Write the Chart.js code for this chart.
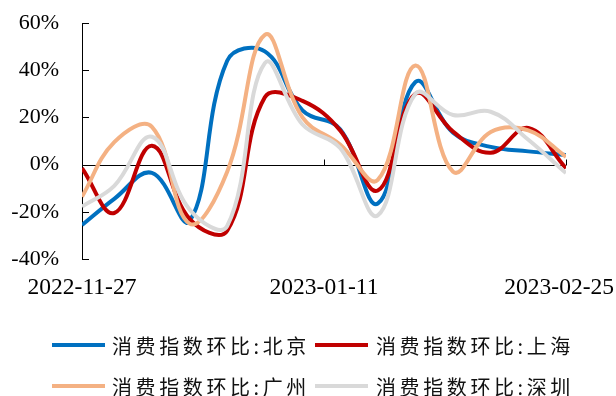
<!DOCTYPE html>
<html>
<head>
<meta charset="utf-8">
<script src="https://cdn.jsdelivr.net/npm/chart.js@4/dist/chart.umd.min.js"></script>
<style>
  html, body { margin: 0; padding: 0; background: #fff; }
  #wrap { width: 616px; height: 396px; }
</style>
</head>
<body>
<div id="wrap"><canvas id="c" width="616" height="396"></canvas></div>
<script>
// Weekly observation dates
const dates = ['2022-11-27', '2022-12-03', '2022-12-10', '2022-12-17', '2022-12-24', '2022-12-31',
               '2023-01-07', '2023-01-14', '2023-01-21', '2023-01-28', '2023-02-04', '2023-02-11',
               '2023-02-18', '2023-02-25'];

// Week-on-week change of the consumption index, in percent
const beijing  = [-25.6, -14.5,  -3.5, -24.0,  44.0,  48.0,  23.0,  15.0, -16.5,  35.0,  13.5,   7.5,   5.6,   4.1];
const shanghai = [ -1.5, -20.5,   8.0, -23.0, -28.0,  28.5,  27.0,  14.5, -11.0,  30.0,  14.0,   5.0,  15.5,  -1.5];
const guangzhou= [-13.6,   9.5,  16.0, -25.0,  -3.0,  55.0,  20.0,   8.5,  -6.5,  42.0,  -3.0,  13.8,  14.5,   3.3];
const shenzhen = [-17.8,  -9.0,  11.8, -19.0, -26.0,  43.0,  17.0,   7.0, -21.5,  30.0,  21.0,  22.4,  10.5,  -3.6];

const seriesNames = ['消费指数环比:北京', '消费指数环比:上海', '消费指数环比:广州', '消费指数环比:深圳'];
const seriesColors = ['#0070C0', '#C00000', '#F4B183', '#D9D9D9'];

// Date axis labels
const xTickLabels = ['2022-11-27', '2023-01-11', '2023-02-25'];
const yTicks = { min: -40, max: 60, step: 20 };

const DAY = 86400000;
const t0 = Date.parse(dates[0] + 'T00:00:00Z');
const dayOf = s => Math.round((Date.parse(s + 'T00:00:00Z') - t0) / DAY);
const xMax = dayOf(dates[dates.length - 1]);

const toPoints = vals => dates.map((d, i) => ({ x: dayOf(d), y: vals[i] }));

const serif = '"Liberation Serif", "Times New Roman", serif';
const cjk = '"Noto Sans CJK SC", "Noto Sans CJK JP", sans-serif';

// Zero line, inward axis ticks, date labels
const axisDecor = {
  id: 'axisDecor',
  beforeDatasetsDraw(chart) {
    const { ctx, chartArea: a, scales: { x, y } } = chart;
    ctx.save();
    ctx.strokeStyle = '#000';
    ctx.lineWidth = 1;
    const y0 = Math.round(y.getPixelForValue(0)) + 0.5;
    ctx.beginPath();
    ctx.moveTo(a.left, y0);
    ctx.lineTo(a.right, y0);
    // x ticks pointing up from the zero line
    xTickLabels.forEach(lbl => {
      const px = Math.round(x.getPixelForValue(dayOf(lbl))) + 0.5;
      ctx.moveTo(px, y0);
      ctx.lineTo(px, y0 - 6);
    });
    // y ticks pointing into the plot
    for (let v = yTicks.min; v <= yTicks.max; v += yTicks.step) {
      const py = Math.round(y.getPixelForValue(v)) + 0.5;
      ctx.moveTo(a.left, py);
      ctx.lineTo(a.left + 7, py);
    }
    ctx.stroke();
    ctx.restore();
  },
  afterDraw(chart) {
    const { ctx, scales: { x } } = chart;
    ctx.save();
    ctx.fillStyle = '#000';
    ctx.font = '23.5px ' + serif;
    ctx.textBaseline = 'middle';
    ctx.textAlign = 'left';
    const W = chart.width;
    xTickLabels.forEach(lbl => {
      const w = ctx.measureText(lbl).width;
      let cx = x.getPixelForValue(dayOf(lbl));
      let left = cx - w / 2;
      if (left + w > W - 2) left = W - 2 - w;
      if (left < 2) left = 2;
      ctx.fillText(lbl, left, 288);
    });
    ctx.restore();
  }
};

// Two-column legend below the plot
const legendBox = {
  id: 'legendBox',
  afterDraw(chart) {
    const { ctx } = chart;
    const lineX = [52, 315];
    const textX = [112, 376];
    const rowY = [345, 386];
    const spacing = 3.6;
    ctx.save();
    ctx.font = '20px ' + cjk;
    ctx.textBaseline = 'middle';
    ctx.textAlign = 'left';
    chart.data.datasets.forEach((ds, i) => {
      const col = i % 2, row = Math.floor(i / 2);
      const yy = rowY[row];
      ctx.strokeStyle = ds.borderColor;
      ctx.lineWidth = 4;
      ctx.lineCap = 'butt';
      ctx.beginPath();
      ctx.moveTo(lineX[col], yy);
      ctx.lineTo(lineX[col] + 53, yy);
      ctx.stroke();
      ctx.fillStyle = '#111';
      let tx = textX[col];
      for (const ch of ds.label) {
        ctx.fillText(ch, tx, yy + 1);
        tx += ctx.measureText(ch).width + spacing;
      }
    });
    ctx.restore();
  }
};

const seriesValues = [beijing, shanghai, guangzhou, shenzhen];

new Chart(document.getElementById('c'), {
  type: 'line',
  data: {
    datasets: seriesValues.map((vals, i) => ({
      label: seriesNames[i],
      data: toPoints(vals),
      borderColor: seriesColors[i],
      backgroundColor: seriesColors[i],
      borderWidth: 4,
      pointRadius: 0,
      tension: 0.4,
      fill: false,
      order: 4 - i
    }))
  },
  options: {
    responsive: false,
    animation: false,
    devicePixelRatio: 1,
    layout: { padding: { left: 0, top: 23, right: 50, bottom: 137 } },
    plugins: { legend: { display: false }, tooltip: { enabled: false } },
    scales: {
      x: { type: 'linear', min: 0, max: xMax, display: false },
      y: {
        min: yTicks.min, max: yTicks.max,
        ticks: {
          stepSize: yTicks.step,
          callback: v => v + '%',
          color: '#000',
          padding: 23,
          font: { family: serif, size: 22 }
        },
        grid: { display: false, drawTicks: false },
        border: { display: true, color: '#000', width: 1 },
        afterFit: s => { s.width = 82; s.paddingTop = 0; s.paddingBottom = 0; }
      }
    }
  },
  plugins: [axisDecor, legendBox]
});
</script>
</body>
</html>
